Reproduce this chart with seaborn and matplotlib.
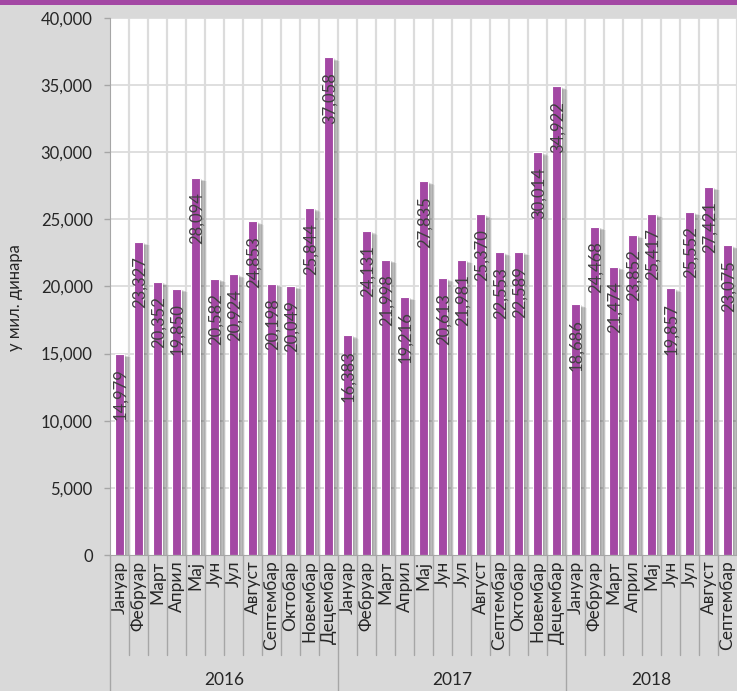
import pandas as pd
import numpy as np

import matplotlib
matplotlib.use("Agg")
import matplotlib.pyplot as plt
import matplotlib.patheffects as pe
import matplotlib.transforms as mtransforms
from matplotlib.patches import Rectangle
import seaborn as sns

# ### Data
years = ["2016", "2017", "2018"]
months = ["Јануар", "Фебруар", "Март", "Април", "Мај", "Јун", "Јул",
          "Август", "Септембар", "Октобар", "Новембар", "Децембар"]
values_2016 = [14979, 23327, 20352, 19850, 28094, 20582, 20924, 24853, 20198, 20049, 25844, 37058]
values_2017 = [16383, 24131, 21998, 19216, 27835, 20613, 21981, 25370, 22553, 22589, 30014, 34922]
values_2018 = [18686, 24468, 21474, 23852, 25417, 19857, 25552, 27421, 23075]
y_ticks = [0, 5000, 10000, 15000, 20000, 25000, 30000, 35000, 40000]
y_label = "у мил. динара"

# Build a long table: one row per month
rows = []
for year, vals in zip(years, [values_2016, values_2017, values_2018]):
    for m, v in zip(months, vals):
        rows.append({"year": year, "month": m, "key": f"{year}-{m}", "value": v})
df = pd.DataFrame(rows)

purple = "#a348a4"
bg_gray = "#d9d9d9"
grid_gray = "#dcdcdc"
sep_gray = "#a6a6a6"

sns.set_style("white")
plt.rcParams["font.family"] = ["Lato", "Noto Sans", "DejaVu Sans"]

W, H = 737, 691
fig = plt.figure(figsize=(W / 100, H / 100), dpi=100, facecolor=bg_gray)
ax = fig.add_axes([110 / W, (H - 555) / H, 627 / W, 537 / H])
ax.set_facecolor("white")

# Paint the bars
sns.barplot(data=df, x="key", y="value", order=df["key"], color=purple,
            saturation=1, width=0.45, edgecolor="white", linewidth=0.8, ax=ax)

# soft blurred shadow to the right of each bar
shadow = [pe.SimplePatchShadow(offset=(d, -0.5 * d), shadow_rgbFace="black", alpha=0.055)
          for d in np.linspace(0.4, 5.0, 10)]
for bar in ax.patches:
    bar.set_path_effects(shadow + [pe.Normal()])
    bar.set_zorder(3)

# value labels, rotated inside the bars
for bar, v in zip(ax.patches, df["value"]):
    ax.annotate(f"{v:,}", (bar.get_x() + bar.get_width() / 2, bar.get_height()),
                xytext=(0.8, -10.5), textcoords="offset points",
                rotation=90, ha="center", va="top", fontsize=12, color="#404040", zorder=5)

n = len(df)
ax.set_xlim(-0.5, n - 0.5)
ax.set_ylim(0, 40000)
ax.set_yticks(y_ticks)
ax.set_yticklabels([f"{t:,}" for t in y_ticks], fontsize=12, color="#262626")
ax.set_xticks(range(n))
ax.set_xticklabels(df["month"], rotation=90, fontsize=12.5, color="#262626")
ax.tick_params(axis="x", length=0, pad=4)
ax.tick_params(axis="y", length=4.5, width=1, color="#a6a6a6", pad=8, left=True)
ax.set_xlabel("")
ax.set_ylabel("")

# grid: horizontal at the ticks, vertical between categories
for t in y_ticks[1:]:
    ax.axhline(t, color=grid_gray, linewidth=1.3, zorder=0)
for i in range(n):
    ax.axvline(i + 0.5, color=grid_gray, linewidth=1.6, zorder=0)

for s in ["top", "right"]:
    ax.spines[s].set_visible(False)
ax.spines["left"].set_color("#a6a6a6")
ax.spines["bottom"].set_color("#a6a6a6")
ax.spines["left"].set_zorder(6)
ax.spines["bottom"].set_zorder(6)

# category axis: month separators and year groups below the plot
trans = mtransforms.blended_transform_factory(ax.transData, ax.transAxes)
month_bottom = -100 / 537
year_bottom = -140 / 537
start = 0
for year in years:
    count = (df["year"] == year).sum()
    ax.plot([start - 0.5, start - 0.5], [0, year_bottom], transform=trans,
            color=sep_gray, linewidth=1, clip_on=False)
    for i in range(start + 1, start + count):
        ax.plot([i - 0.5, i - 0.5], [0, month_bottom], transform=trans,
                color=sep_gray, linewidth=1, clip_on=False)
    ax.text(start + (count - 1) / 2, -125 / 537, year, transform=trans,
            ha="center", va="center", fontsize=12.5, color="#262626")
    start += count

# y label
fig.text(15 / W, (H - 298) / H, y_label, rotation=90, ha="center", va="center",
         fontsize=12, color="#262626")

# purple stripe at the top
fig.patches.append(Rectangle((0, (H - 5) / H), 1, 5 / H, transform=fig.transFigure,
                             facecolor=purple, edgecolor="none"))

fig.savefig("out.png", dpi=100, facecolor=bg_gray)
